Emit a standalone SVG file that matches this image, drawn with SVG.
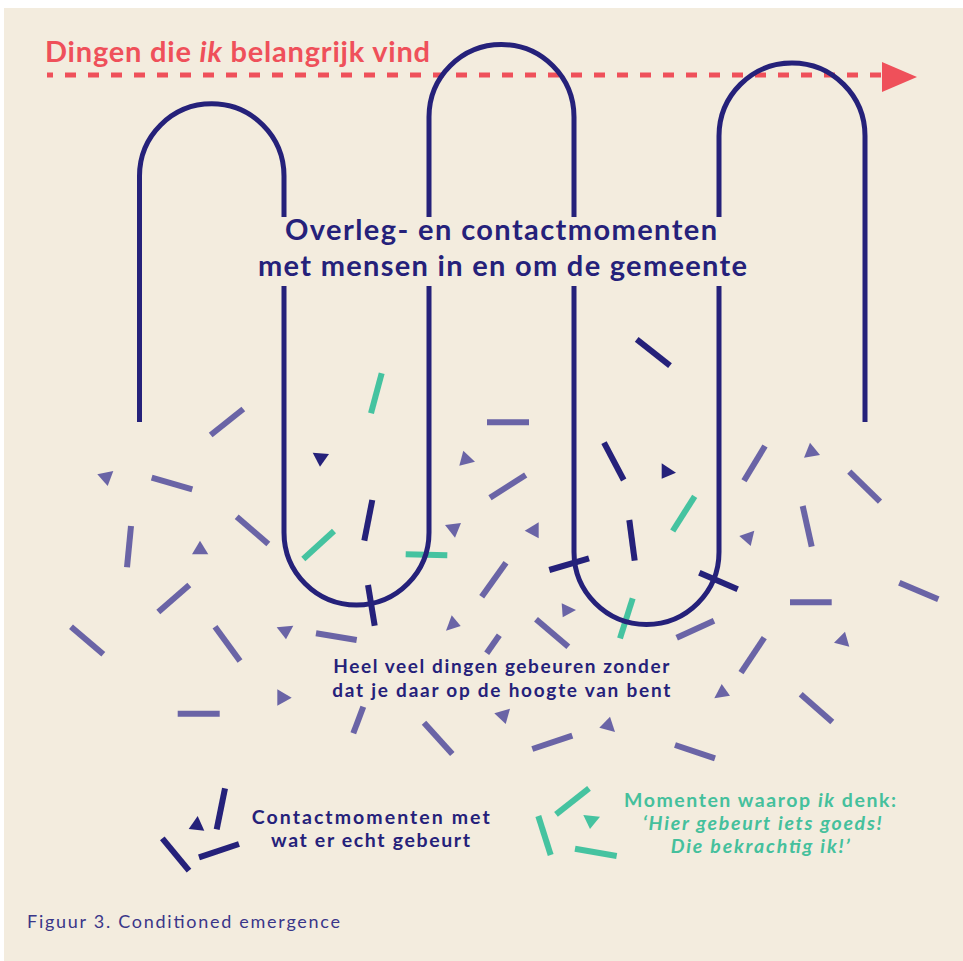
<svg xmlns="http://www.w3.org/2000/svg" width="963" height="961" viewBox="0 0 963 961">
<style>
.bg{fill:#F3ECDE}
.hp{fill:none;stroke:#25217A;stroke-width:5;stroke-linecap:butt}
.p{stroke:#6A64A6;stroke-width:6;stroke-linecap:butt}
.d{stroke:#25217A;stroke-width:6;stroke-linecap:butt}
.g{stroke:#45C3A0;stroke-width:6;stroke-linecap:butt}
.pt{fill:#6A64A6}
.dt{fill:#25217A}
.gt{fill:#45C3A0}
.t{font-family:Lato,"Open Sans","Liberation Sans",sans-serif;font-weight:700}
.red{fill:#EF505A}
.navy{fill:#25217A}
.teal{fill:#45C09C}
.cap{font-family:Lato,"Open Sans","Liberation Sans",sans-serif;font-weight:400;fill:#3A3689}
</style>
<rect class="bg" x="4" y="8" width="959" height="953"/>

<g id="arrow">
<line x1="47" y1="75" x2="883" y2="75" stroke="#EF505A" stroke-width="5" stroke-dasharray="11 12" stroke-dashoffset="5"/>
<polygon points="882,62 917,77 882,92" fill="#EF505A"/>
</g>

<g id="scatter">
<line class="p" x1="210.7" y1="435" x2="243.3" y2="409"/>
<line class="p" x1="151.7" y1="477.7" x2="192.3" y2="489.3"/>
<line class="p" x1="131" y1="526" x2="127" y2="567.3"/>
<line class="p" x1="236.7" y1="516.7" x2="268.3" y2="544"/>
<line class="p" x1="189.3" y1="585" x2="158.3" y2="612"/>
<line class="p" x1="71" y1="626.7" x2="103.3" y2="654.3"/>
<line class="p" x1="215" y1="626.7" x2="240" y2="661"/>
<line class="p" x1="316" y1="633.3" x2="356.7" y2="640"/>
<line class="p" x1="177.7" y1="713.7" x2="219.7" y2="713.7"/>
<line class="p" x1="363.3" y1="706.7" x2="353.3" y2="733.3"/>
<line class="p" x1="424" y1="722.7" x2="452.3" y2="754"/>
<line class="p" x1="487" y1="422.3" x2="529" y2="422.3"/>
<line class="p" x1="490" y1="497.7" x2="525.7" y2="475"/>
<line class="p" x1="506" y1="562.7" x2="481.7" y2="596.7"/>
<line class="p" x1="536" y1="619.3" x2="568.3" y2="646.7"/>
<line class="p" x1="499.3" y1="635.3" x2="486.7" y2="653.3"/>
<line class="p" x1="676.7" y1="637.7" x2="714" y2="620.7"/>
<line class="p" x1="765" y1="446" x2="744" y2="480.7"/>
<line class="p" x1="849.3" y1="471.7" x2="880" y2="501.7"/>
<line class="p" x1="802.7" y1="506" x2="811.7" y2="546.7"/>
<line class="p" x1="790" y1="602.3" x2="831.7" y2="602.3"/>
<line class="p" x1="899.3" y1="582.7" x2="938.3" y2="599.3"/>
<line class="p" x1="764.3" y1="637.7" x2="741" y2="672.7"/>
<line class="p" x1="800.7" y1="694.3" x2="832.3" y2="722"/>
<line class="p" x1="532.3" y1="749" x2="572.3" y2="735.7"/>
<line class="p" x1="675" y1="745" x2="715" y2="758.3"/>

<polygon class="pt" points="97.3,474.3 113.3,471 107.7,486"/>
<polygon class="pt" points="192,554.3 208.3,554.3 200,540.7"/>
<polygon class="pt" points="276.7,627.3 293.3,625.7 286,639.3"/>
<polygon class="pt" points="446,630.7 460.7,626 451.7,615.3"/>
<polygon class="pt" points="277.3,689.3 291.7,697.7 277.3,705.7"/>
<polygon class="pt" points="459.3,465.7 475,461.7 463.3,450.7"/>
<polygon class="pt" points="445,525 461,523 455,537.7"/>
<polygon class="pt" points="524.7,530.7 538.7,522.3 538.7,538.3"/>
<polygon class="pt" points="561.7,603.3 576,610 562.7,617.3"/>
<polygon class="pt" points="804,457.7 820,455 810,442.7"/>
<polygon class="pt" points="739.3,536 754.3,530.7 750.7,546"/>
<polygon class="pt" points="834,642.7 849.3,646.7 845,631.7"/>
<polygon class="pt" points="714.3,698.3 730,695.7 721.7,684"/>
<polygon class="pt" points="494.3,713.3 510,708.7 505.7,724"/>
<polygon class="pt" points="599.3,727.7 615,732 610,716.7"/>

<line class="d" x1="636.7" y1="339.3" x2="670" y2="365.7"/>
<line class="d" x1="372.3" y1="500" x2="364.3" y2="540.7"/>
<line class="d" x1="368" y1="585" x2="374.7" y2="625.7"/>
<line class="d" x1="604" y1="442.7" x2="623.7" y2="480"/>
<line class="d" x1="629.3" y1="520" x2="634.7" y2="560.7"/>
<line class="d" x1="549.3" y1="570" x2="589" y2="558.3"/>
<line class="d" x1="699.3" y1="572.7" x2="737.7" y2="589.3"/>
<polygon class="dt" points="312.7,452.7 329,454 320,466.7"/>
<polygon class="dt" points="661.7,463.3 676,472.7 661.7,478.7"/>

<line class="g" x1="371" y1="413.3" x2="381.7" y2="373.3"/>
<line class="g" x1="334" y1="531" x2="303.3" y2="559"/>
<line class="g" x1="405.7" y1="554.3" x2="447.3" y2="555.3"/>
<line class="g" x1="694.7" y1="496.3" x2="672.7" y2="531"/>
<line class="g" x1="632.7" y1="598.3" x2="620" y2="638.3"/>
</g>

<g id="hairpin">
<path class="hp" d="M139.5,422 V176 A72.25,72.25 0 0 1 284,176 V217"/>
<path class="hp" d="M284,286 V532.5 A72.5,72.5 0 0 0 429,532.5 V286"/>
<path class="hp" d="M429,217 V117 A72.5,72.5 0 0 1 574,117 V217"/>
<path class="hp" d="M574,286 V552 A72.5,72.5 0 0 0 719,552 V286"/>
<path class="hp" d="M719,217 V136 A73,73 0 0 1 865,136 V422"/>
</g>

<g id="title">
<text class="t red" x="45" y="62" font-size="29" textLength="385">Dingen die <tspan font-style="italic">ik</tspan> belangrijk vind</text>
</g>

<g id="heading">
<text class="t navy" x="285" y="240" font-size="29" textLength="432">Overleg- en contactmomenten</text>
<text class="t navy" x="258" y="276" font-size="29" textLength="489">met mensen in en om de gemeente</text>
</g>

<g id="unseen">
<text class="t navy" x="333.3" y="672.7" font-size="19" textLength="336">Heel veel dingen gebeuren zonder</text>
<text class="t navy" x="332.3" y="696.7" font-size="19" textLength="338">dat je daar op de hoogte van bent</text>
</g>

<g id="legend-actual">
<line class="d" x1="225" y1="788.3" x2="216.7" y2="829.3"/>
<line class="d" x1="162.3" y1="838.3" x2="189" y2="870.7"/>
<line class="d" x1="199" y1="857.3" x2="239" y2="844"/>
<polygon class="dt" points="188.7,829 204.3,830.7 197.7,816"/>
<text class="t navy" x="251.7" y="824" font-size="19.5" textLength="238">Contactmomenten met</text>
<text class="t navy" x="271" y="847.3" font-size="19.5" textLength="199">wat er echt gebeurt</text>
</g>

<g id="legend-good">
<line class="g" x1="589" y1="788.3" x2="556" y2="814.3"/>
<line class="g" x1="538.3" y1="816" x2="550.7" y2="855"/>
<line class="g" x1="575" y1="848.7" x2="616.7" y2="856"/>
<polygon class="gt" points="583.3,815 600,816.7 590,829"/>
<text class="t teal" x="624" y="806.7" font-size="19.5" textLength="272">Momenten waarop <tspan font-style="italic">ik</tspan> denk:</text>
<text class="t teal" x="642.7" y="830" font-size="19.5" font-style="italic" textLength="239">‘Hier gebeurt iets goeds!</text>
<text class="t teal" x="670.7" y="853.3" font-size="19.5" font-style="italic" textLength="179">Die bekrachtig ik!’</text>
</g>

<g id="caption">
<text class="cap" x="27" y="928.3" font-size="18" textLength="313">Figuur 3. Conditioned emergence</text>
</g>
</svg>
